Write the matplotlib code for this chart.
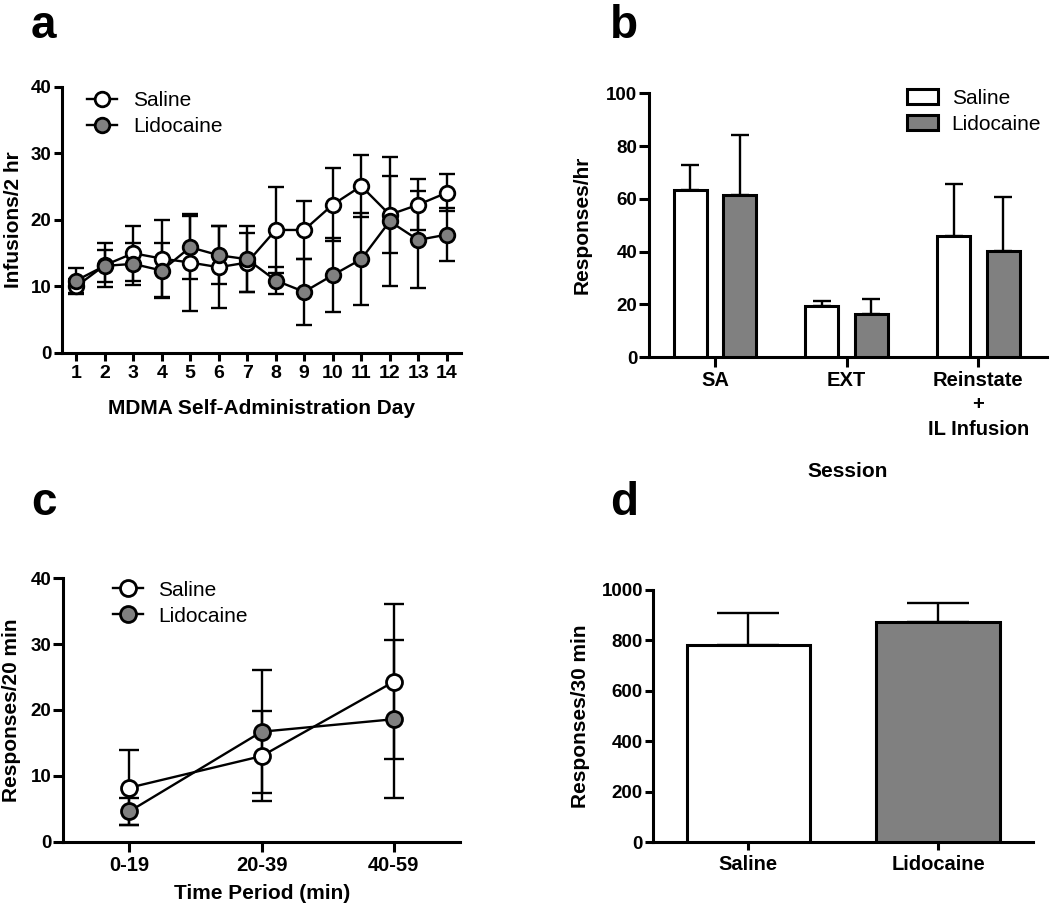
import matplotlib
matplotlib.use('Agg')
import matplotlib.pyplot as plt
import numpy as np

plt.rcParams['font.family'] = ['Liberation Sans', 'DejaVu Sans']
plt.rcParams['font.weight'] = 'bold'
plt.rcParams['axes.labelweight'] = 'bold'

# ---------------- data ----------------
# a: infusions per day
days = list(range(1, 15))
sal_a = [10.0, 13.2, 15.0, 14.2, 13.6, 12.9, 13.6, 18.5, 18.5, 22.3, 25.1, 20.8, 22.3, 24.1]
sal_a_err = [1.2, 3.3, 4.1, 5.8, 7.3, 6.2, 4.4, 6.4, 4.4, 5.5, 4.7, 5.8, 3.8, 2.8]
lid_a = [10.9, 13.1, 13.4, 12.4, 15.9, 14.7, 14.1, 10.9, 9.2, 11.7, 14.1, 19.8, 17.0, 17.8]
lid_a_err = [1.9, 2.4, 3.2, 4.2, 4.7, 4.4, 5.0, 2.1, 5.0, 5.6, 6.9, 9.7, 7.3, 4.0]

# b: responses per session
sessions = ['SA', 'EXT', 'Reinstate\n+\nIL Infusion']
sal_b = [63.5, 19.4, 45.8]
sal_b_err = [9.2, 1.9, 19.8]
lid_b = [61.3, 16.2, 40.1]
lid_b_err = [23.0, 5.8, 20.7]

# c: responses per 20-min bin
periods = ['0-19', '20-39', '40-59']
sal_c = [8.2, 13.0, 24.3]
sal_c_err = [5.7, 6.8, 11.8]
lid_c = [4.6, 16.7, 18.6]
lid_c_err = [2.1, 9.3, 12.0]

# d: responses in 30 min
groups_d = ['Saline', 'Lidocaine']
vals_d = [782, 874]
err_d = [126, 73]

GRAY = '#808080'
LW = 2.2      # axis / bar outline
ELW = 1.7     # error bars + lines
YTICK_FS = 13.5
XTICK_FS = 14.5
LABEL_FS = 15
LEG_FS = 15

fig = plt.figure(figsize=(10.5, 9.1), dpi=100)
ax_a = fig.add_axes([0.0590, 0.6121, 0.3800, 0.2923])
ax_b = fig.add_axes([0.6181, 0.6074, 0.3790, 0.2901])
ax_c = fig.add_axes([0.0603, 0.0751, 0.3778, 0.2894])
ax_d = fig.add_axes([0.6222, 0.0744, 0.3616, 0.2773])


def style(ax, ticklen=6, xfs=XTICK_FS):
    for s in ['top', 'right']:
        ax.spines[s].set_visible(False)
    for s in ['left', 'bottom']:
        ax.spines[s].set_linewidth(LW)
    ax.tick_params(direction='out', width=LW, length=ticklen)
    ax.tick_params(axis='y', pad=1.5, labelsize=YTICK_FS)
    ax.tick_params(axis='x', pad=3, labelsize=xfs)


def line_panel(ax, x, sal, sal_err, lid, lid_err, ms, cap):
    ax.errorbar(x, sal, yerr=sal_err, fmt='none', ecolor='black', elinewidth=ELW,
                capsize=cap, capthick=ELW, zorder=2)
    ax.errorbar(x, lid, yerr=lid_err, fmt='none', ecolor='black', elinewidth=ELW,
                capsize=cap, capthick=ELW, zorder=2)
    ax.plot(x, sal, '-o', color='black', lw=ELW, ms=ms, mfc='white', mec='black',
            mew=2.0, label='Saline', zorder=3)
    ax.plot(x, lid, '-o', color='black', lw=ELW, ms=ms, mfc=GRAY, mec='black',
            mew=2.0, label='Lidocaine', zorder=4)


# ============ a ============
line_panel(ax_a, days, sal_a, sal_a_err, lid_a, lid_a_err, ms=10.5, cap=6)
ax_a.set_xlim(0.5, 14.5)
ax_a.set_ylim(0, 40)
ax_a.set_xticks(days)
ax_a.set_yticks([0, 10, 20, 30, 40])
style(ax_a, xfs=14)
ax_a.set_xlabel('MDMA Self-Administration Day', fontsize=LABEL_FS)
ax_a.set_ylabel('Infusions/2 hr', fontsize=LABEL_FS)
ax_a.xaxis.label.set_va('center')
ax_a.xaxis.set_label_coords(0.5, -0.207)
ax_a.yaxis.label.set_va('center')
ax_a.yaxis.set_label_coords(-0.122, 0.5)
ax_a.legend(loc='upper left', bbox_to_anchor=(0.063, 0.985), frameon=False,
            prop={'weight': 'normal', 'size': LEG_FS}, handlelength=1.45,
            handletextpad=0.75, labelspacing=0.33, borderpad=0, borderaxespad=0)

# ============ b ============
xb = np.arange(len(sessions))
off, w = 0.1875, 0.25
ax_b.bar(xb - off, sal_b, w, color='white', edgecolor='black', linewidth=LW,
         label='Saline', zorder=3)
ax_b.bar(xb + off, lid_b, w, color=GRAY, edgecolor='black', linewidth=LW,
         label='Lidocaine', zorder=3)
ax_b.errorbar(xb - off, sal_b, yerr=[np.zeros(3), sal_b_err], fmt='none', ecolor='black',
              elinewidth=ELW, capsize=6.5, capthick=ELW, zorder=2)
ax_b.errorbar(xb + off, lid_b, yerr=[np.zeros(3), lid_b_err], fmt='none', ecolor='black',
              elinewidth=ELW, capsize=6.5, capthick=ELW, zorder=2)
ax_b.set_xlim(-0.5, 2.52)
ax_b.set_ylim(0, 100)
ax_b.set_xticks(xb)
ax_b.set_xticklabels(sessions, linespacing=1.35)
ax_b.set_yticks([0, 20, 40, 60, 80, 100])
style(ax_b, ticklen=7)
ax_b.set_xlabel('Session', fontsize=LABEL_FS)
ax_b.set_ylabel('Responses/hr', fontsize=LABEL_FS)
ax_b.xaxis.label.set_va('center')
ax_b.xaxis.set_label_coords(0.5, -0.433)
ax_b.yaxis.label.set_va('center')
ax_b.yaxis.set_label_coords(-0.168, 0.5)
ax_b.legend(loc='upper left', bbox_to_anchor=(0.6475, 1.016), frameon=False,
            prop={'weight': 'normal', 'size': LEG_FS}, handlelength=1.52,
            handleheight=0.7, handletextpad=0.64, labelspacing=0.33,
            borderpad=0, borderaxespad=0)

# ============ c ============
xc = np.arange(len(periods))
line_panel(ax_c, xc, sal_c, sal_c_err, lid_c, lid_c_err, ms=11.5, cap=7)
ax_c.set_xlim(-0.5, 2.5)
ax_c.set_ylim(0, 40)
ax_c.set_xticks(xc)
ax_c.set_xticklabels(periods)
ax_c.set_yticks([0, 10, 20, 30, 40])
style(ax_c, ticklen=7)
ax_c.set_xlabel('Time Period (min)', fontsize=LABEL_FS)
ax_c.set_ylabel('Responses/20 min', fontsize=LABEL_FS)
ax_c.xaxis.label.set_va('center')
ax_c.xaxis.set_label_coords(0.5, -0.195)
ax_c.yaxis.label.set_va('center')
ax_c.yaxis.set_label_coords(-0.130, 0.5)
ax_c.legend(loc='upper left', bbox_to_anchor=(0.1245, 0.991), frameon=False,
            prop={'weight': 'normal', 'size': LEG_FS}, handlelength=1.45,
            handletextpad=0.74, labelspacing=0.33, borderpad=0, borderaxespad=0)

# ============ d ============
xd = np.arange(len(groups_d))
ax_d.bar(xd, vals_d, 0.65, color=['white', GRAY], edgecolor='black', linewidth=LW, zorder=3)
ax_d.errorbar(xd, vals_d, yerr=[np.zeros(2), err_d], fmt='none', ecolor='black',
              elinewidth=ELW, capsize=22.5, capthick=ELW, zorder=2)
ax_d.set_xlim(-0.5, 1.5)
ax_d.set_ylim(0, 1000)
ax_d.set_xticks(xd)
ax_d.set_xticklabels(groups_d)
ax_d.set_yticks([0, 200, 400, 600, 800, 1000])
style(ax_d)
ax_d.set_ylabel('Responses/30 min', fontsize=LABEL_FS)
ax_d.yaxis.label.set_va('center')
ax_d.yaxis.set_label_coords(-0.193, 0.5)

# panel letters
for lab, x, y in [('a', 0.0295, 0.958), ('b', 0.581, 0.958),
                  ('c', 0.0295, 0.434), ('d', 0.581, 0.434)]:
    fig.text(x, y, lab, fontsize=33, fontweight='bold', va='baseline', ha='left')

fig.savefig('out.png', dpi=100, facecolor='white')
